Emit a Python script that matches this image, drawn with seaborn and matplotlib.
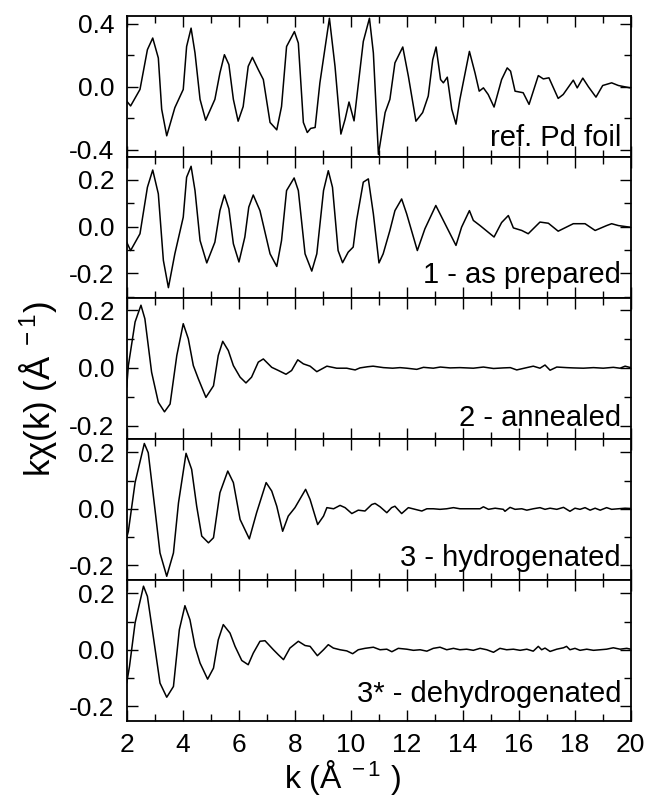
import numpy as np
import pandas as pd
import matplotlib
matplotlib.use("Agg")
import matplotlib.pyplot as plt
from matplotlib.ticker import MultipleLocator
import seaborn as sns

# ---------------------------------------------------------------
# Data (k in 1/Angstrom, k*chi(k))
# ---------------------------------------------------------------
k_foil = [2.0, 2.14, 2.475, 2.74, 2.93, 3.13, 3.25, 3.43, 3.72, 4.02, 4.14, 4.30, 4.44, 4.62,
          4.82, 5.15, 5.33, 5.49, 5.65, 5.81, 5.98, 6.16, 6.34, 6.49, 6.70, 6.88, 7.12, 7.36,
          7.53, 7.71, 7.99, 8.13, 8.31, 8.45, 8.57, 8.73, 8.90, 9.24, 9.44, 9.65, 9.80, 9.94,
          10.12, 10.45, 10.67, 10.81, 10.99, 11.23, 11.40, 11.58, 11.86, 12.06, 12.33, 12.57,
          12.77, 12.93, 13.05, 13.21, 13.31, 13.45, 13.61, 13.76, 13.90, 14.24, 14.44, 14.59,
          14.74, 14.91, 15.12, 15.39, 15.59, 15.71, 15.87, 16.16, 16.37, 16.70, 16.88, 17.08,
          17.41, 17.59, 17.95, 18.09, 18.29, 18.49, 18.76, 19.0, 19.32, 19.56, 19.98]
chi_foil = [-0.091, -0.122, -0.017, 0.236, 0.31, 0.183, -0.143, -0.312, -0.133, -0.017, 0.256,
            0.373, 0.215, -0.08, -0.213, -0.08, 0.088, 0.204, 0.141, -0.08, -0.219, -0.126,
            0.13, 0.187, 0.109, 0.046, -0.227, -0.274, -0.126, 0.256, 0.351, 0.278, -0.227,
            -0.291, -0.265, -0.259, 0.025, 0.436, 0.13, -0.301, -0.207, -0.097, -0.217, 0.288,
            0.436, 0.215, -0.43, -0.164, -0.08, 0.152, 0.253, 0.067, -0.219, -0.164, -0.059,
            0.172, 0.253, 0.046, 0.025, 0.061, -0.143, -0.238, -0.08, 0.225, 0.088, -0.028,
            -0.007, -0.049, -0.129, 0.046, 0.12, 0.099, -0.028, -0.038, -0.112, 0.071, 0.05,
            0.057, -0.074, -0.049, 0.042, -0.007, 0.055, 0.0, -0.066, 0.008, 0.025, 0.008, -0.007]

k_prep = [2.0, 2.14, 2.475, 2.74, 2.93, 3.13, 3.31, 3.49, 3.72, 4.02, 4.14, 4.30, 4.44, 4.62,
          4.86, 5.15, 5.33, 5.49, 5.65, 5.81, 6.01, 6.22, 6.36, 6.52, 6.76, 7.12, 7.36, 7.53,
          7.71, 7.98, 8.13, 8.37, 8.61, 8.79, 9.03, 9.20, 9.35, 9.55, 9.71, 9.91, 10.09, 10.21,
          10.45, 10.63, 10.81, 11.01, 11.16, 11.40, 11.58, 11.82, 12.0, 12.38, 12.65, 13.04,
          13.25, 13.49, 13.76, 13.96, 14.24, 14.38, 14.62, 15.12, 15.39, 15.63, 15.81, 16.11,
          16.34, 16.76, 17.06, 17.41, 17.95, 18.37, 18.73, 19.14, 19.32, 19.56, 19.98]
chi_prep = [-0.067, -0.103, -0.031, 0.168, 0.242, 0.14, -0.145, -0.262, -0.117, 0.04, 0.211,
            0.258, 0.154, -0.06, -0.156, -0.067, 0.068, 0.135, 0.076, -0.074, -0.152, -0.045,
            0.083, 0.135, 0.068, -0.117, -0.171, -0.06, 0.154, 0.208, 0.154, -0.117, -0.191,
            -0.117, 0.154, 0.239, 0.168, -0.103, -0.155, -0.11, -0.088, 0.026, 0.19, 0.204,
            0.054, -0.156, -0.117, -0.017, 0.068, 0.118, 0.054, -0.103, -0.01, 0.09, 0.04,
            -0.017, -0.081, -0.003, 0.068, 0.026, 0.004, -0.045, 0.017, 0.047, -0.006, -0.017,
            -0.031, 0.019, 0.014, -0.02, 0.012, 0.012, -0.017, 0.004, 0.012, 0.004, -0.003]

k_ann = [2.0, 2.06, 2.30, 2.51, 2.65, 2.89, 3.13, 3.35, 3.55, 3.79, 4.02, 4.20, 4.38, 4.56,
         4.83, 5.10, 5.27, 5.43, 5.63, 5.81, 6.05, 6.26, 6.46, 6.70, 6.88, 7.18, 7.42, 7.69,
         7.89, 8.11, 8.31, 8.55, 8.79, 9.15, 9.50, 9.86, 10.0, 10.16, 10.33, 10.6, 10.8, 11.17,
         11.5, 11.76, 12.0, 12.36, 12.6, 12.95, 13.2, 13.55, 13.9, 14.38, 14.74, 15.1, 15.45,
         15.7, 15.93, 16.29, 16.52, 16.76, 16.94, 17.12, 17.36, 17.71, 17.95, 18.31, 18.67,
         19.02, 19.38, 19.62, 19.8, 20.0]
chi_ann = [-0.067, 0.008, 0.159, 0.217, 0.17, -0.015, -0.119, -0.152, -0.125, 0.043, 0.153,
           0.101, 0.008, -0.038, -0.102, -0.062, 0.043, 0.092, 0.06, 0.008, -0.032, -0.052,
           -0.032, 0.02, 0.031, 0.002, -0.009, -0.022, -0.009, 0.028, 0.014, 0.006, -0.013,
           0.006, -0.001, -0.001, -0.004, -0.007, 0.0, 0.004, 0.006, 0.001, -0.001, 0.001,
           -0.001, -0.005, 0.002, -0.001, 0.003, 0.0, 0.001, -0.001, 0.003, -0.002, 0.0, 0.001,
           -0.007, 0.001, 0.006, -0.001, 0.01, -0.008, 0.003, 0.001, 0.0, -0.001, 0.001,
           -0.001, 0.002, -0.001, 0.006, 0.001]

k_hyd = [2.0, 2.06, 2.30, 2.63, 2.77, 3.01, 3.19, 3.43, 3.67, 3.85, 4.12, 4.32, 4.50, 4.68,
         4.92, 5.10, 5.33, 5.61, 5.81, 6.05, 6.38, 6.64, 6.98, 7.18, 7.36, 7.57, 7.77, 8.01,
         8.39, 8.55, 8.82, 9.03, 9.15, 9.39, 9.62, 9.8, 10.04, 10.27, 10.51, 10.75, 10.87,
         11.05, 11.29, 11.46, 11.58, 11.82, 12.06, 12.3, 12.54, 12.72, 12.95, 13.19, 13.43,
         13.67, 13.9, 14.14, 14.38, 14.62, 14.74, 14.92, 15.16, 15.45, 15.51, 15.69, 15.87,
         16.11, 16.29, 16.52, 16.76, 16.94, 17.12, 17.36, 17.6, 17.83, 18.01, 18.19, 18.37,
         18.55, 18.73, 18.91, 19.14, 19.32, 19.56, 19.8, 20.0]
chi_hyd = [-0.103, -0.08, 0.093, 0.232, 0.199, -0.002, -0.157, -0.24, -0.157, 0.021, 0.197,
           0.14, 0.009, -0.097, -0.121, -0.103, 0.057, 0.134, 0.093, -0.038, -0.107, -0.014,
           0.093, 0.063, 0.009, -0.08, -0.026, 0.004, 0.069, 0.033, -0.056, -0.026, 0.004, 0.0,
           0.012, 0.004, -0.017, -0.005, -0.008, 0.015, 0.019, 0.007, -0.014, 0.004, 0.009,
           -0.017, 0.004, -0.002, -0.008, 0.0, 0.0, -0.002, 0.0, 0.004, 0.0, 0.0, 0.0, 0.0,
           0.007, -0.002, 0.002, -0.002, -0.009, 0.005, -0.002, 0.0, -0.005, 0.0, 0.004, -0.002,
           0.002, -0.002, 0.005, -0.009, 0.002, -0.002, 0.004, -0.005, 0.002, -0.005, 0.004,
           -0.002, 0.0, 0.002, 0.001]

k_dehyd = [2.0, 2.10, 2.30, 2.60, 2.74, 2.95, 3.19, 3.43, 3.67, 3.88, 4.08, 4.26, 4.44, 4.62,
           4.89, 5.10, 5.27, 5.45, 5.69, 5.87, 6.11, 6.34, 6.52, 6.76, 6.94, 7.24, 7.42, 7.60,
           7.83, 8.13, 8.37, 8.55, 8.81, 9.03, 9.20, 9.38, 9.62, 9.86, 10.07, 10.27, 10.51,
           10.81, 11.05, 11.29, 11.47, 11.7, 12.0, 12.24, 12.48, 12.72, 12.95, 13.19, 13.43,
           13.67, 13.9, 14.14, 14.38, 14.62, 14.86, 15.1, 15.33, 15.57, 15.81, 16.05, 16.29,
           16.52, 16.7, 16.82, 16.94, 17.12, 17.36, 17.6, 17.71, 17.83, 18.01, 18.19, 18.43,
           18.67, 18.91, 19.14, 19.38, 19.62, 19.86, 20.0]
chi_dehyd = [-0.118, -0.059, 0.095, 0.225, 0.189, 0.047, -0.118, -0.168, -0.13, 0.071, 0.156,
             0.106, 0.012, -0.047, -0.104, -0.065, 0.035, 0.089, 0.059, 0.012, -0.038, -0.053,
             -0.012, 0.03, 0.032, 0.0, -0.018, -0.035, 0.006, 0.03, 0.015, 0.012, -0.021, 0.0,
             0.018, 0.006, 0.0, -0.004, -0.014, 0.0, 0.005, 0.009, 0.0, 0.002, -0.007, 0.005,
             0.002, -0.002, 0.0, -0.005, 0.005, 0.009, 0.0, 0.005, 0.0, 0.002, -0.002, 0.005,
             0.0, -0.009, 0.005, 0.0, 0.002, -0.002, 0.002, -0.005, 0.012, 0.0, 0.006, -0.006,
             0.002, 0.007, 0.012, 0.0, 0.005, -0.002, 0.002, -0.002, 0.0, 0.002, 0.007, 0.002,
             0.005, 0.002]

labels = ["ref. Pd foil", "1 - as prepared", "2 - annealed", "3 - hydrogenated",
          "3* - dehydrogenated"]
series = [(k_foil, chi_foil), (k_prep, chi_prep), (k_ann, chi_ann), (k_hyd, chi_hyd),
          (k_dehyd, chi_dehyd)]

# panel y ranges and tick spacing
ylims = [(-0.445, 0.452), (-0.305, 0.299), (-0.245, 0.243), (-0.252, 0.249), (-0.251, 0.248)]
y_major = [0.4, 0.2, 0.2, 0.2, 0.2]
label_y = [0.075, 0.104, 0.09, 0.10, 0.135]

# ---------------------------------------------------------------
# Styling
# ---------------------------------------------------------------
sns.set_style("ticks")
plt.rcParams["font.family"] = ["Liberation Sans", "DejaVu Sans"]
plt.rcParams["mathtext.fontset"] = "custom"
plt.rcParams["mathtext.rm"] = "Liberation Sans"
plt.rcParams["mathtext.it"] = "Liberation Sans:italic"

fig, axes = plt.subplots(5, 1, figsize=(6.49, 7.98), dpi=100, sharex=True)
fig.subplots_adjust(left=0.1952, right=0.9718, top=0.9803, bottom=0.0969, hspace=0)

for i, ax in enumerate(axes):
    k, chi = series[i]
    df = pd.DataFrame({"k": k, "chi": chi})
    sns.lineplot(data=df, x="k", y="chi", ax=ax, color="black", linewidth=1.1,
                 estimator=None, sort=False)
    ax.set_xlim(2, 20)
    ax.set_ylim(*ylims[i])
    ax.yaxis.set_major_locator(MultipleLocator(y_major[i]))
    ax.yaxis.set_minor_locator(MultipleLocator(y_major[i] / 2))
    ax.xaxis.set_major_locator(MultipleLocator(2))
    ax.xaxis.set_minor_locator(MultipleLocator(1))
    ax.yaxis.set_major_formatter(plt.FuncFormatter(lambda v, p: f"{v:.1f}"))
    ax.tick_params(which="both", direction="in", top=True, right=True, width=1.0,
                   labelsize=19, colors="black", pad=9)
    ax.tick_params(which="major", length=8)
    ax.tick_params(which="minor", length=5)
    ax.set_xlabel("")
    ax.set_ylabel("")
    for sp in ax.spines.values():
        sp.set_linewidth(1.3)
        sp.set_color("black")
    ax.text(0.981, label_y[i], labels[i], transform=ax.transAxes, ha="right",
            va="baseline", fontsize=21, color="black")

axes[-1].tick_params(axis="x", pad=9)

fig.text(0.528, 0.012, r"k (Å$^{\ -1}$ )", ha="center", va="baseline", fontsize=23,
         color="black")
fig.text(0.058, 0.5125, r"kχ(k) (Å$^{\ -1}$)", ha="center", va="center",
         rotation=90, fontsize=25, color="black")

fig.savefig("out.png", dpi=100)
